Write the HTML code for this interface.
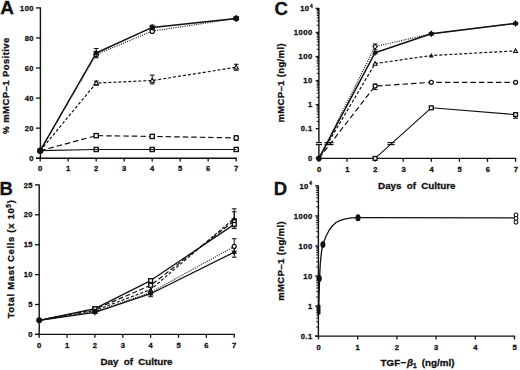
<!DOCTYPE html>
<html><head><meta charset="utf-8"><style>
html,body{margin:0;padding:0;background:#fff;}
svg{display:block;font-family:"Liberation Sans", sans-serif;}
text{fill:#111;stroke:#111;stroke-width:0.3px;}
</style></head><body>
<svg width="520" height="370" viewBox="0 0 520 370">
<rect width="520" height="370" fill="#fff"/>
<line x1="40.40" y1="7.40" x2="40.40" y2="158.80" stroke="#111" stroke-width="1.4"/>
<line x1="36.00" y1="158.20" x2="236.80" y2="158.20" stroke="#111" stroke-width="1.4"/>
<line x1="36.00" y1="158.20" x2="40.40" y2="158.20" stroke="#111" stroke-width="1.3"/>
<text x="34.10" y="160.80" font-size="7.6" text-anchor="end" font-weight="bold" letter-spacing="0.5">0</text>
<line x1="36.00" y1="128.14" x2="40.40" y2="128.14" stroke="#111" stroke-width="1.3"/>
<text x="34.10" y="130.74" font-size="7.6" text-anchor="end" font-weight="bold" letter-spacing="0.5">20</text>
<line x1="36.00" y1="98.08" x2="40.40" y2="98.08" stroke="#111" stroke-width="1.3"/>
<text x="34.10" y="100.68" font-size="7.6" text-anchor="end" font-weight="bold" letter-spacing="0.5">40</text>
<line x1="36.00" y1="68.02" x2="40.40" y2="68.02" stroke="#111" stroke-width="1.3"/>
<text x="34.10" y="70.62" font-size="7.6" text-anchor="end" font-weight="bold" letter-spacing="0.5">60</text>
<line x1="36.00" y1="37.96" x2="40.40" y2="37.96" stroke="#111" stroke-width="1.3"/>
<text x="34.10" y="40.56" font-size="7.6" text-anchor="end" font-weight="bold" letter-spacing="0.5">80</text>
<line x1="36.00" y1="7.90" x2="40.40" y2="7.90" stroke="#111" stroke-width="1.3"/>
<text x="34.10" y="10.50" font-size="7.6" text-anchor="end" font-weight="bold" letter-spacing="0.5">100</text>
<line x1="40.20" y1="158.20" x2="40.20" y2="161.60" stroke="#111" stroke-width="1.3"/>
<text x="40.45" y="170.90" font-size="7.6" text-anchor="middle" font-weight="bold" letter-spacing="0.5">0</text>
<line x1="68.20" y1="158.20" x2="68.20" y2="161.60" stroke="#111" stroke-width="1.3"/>
<text x="68.45" y="170.90" font-size="7.6" text-anchor="middle" font-weight="bold" letter-spacing="0.5">1</text>
<line x1="96.20" y1="158.20" x2="96.20" y2="161.60" stroke="#111" stroke-width="1.3"/>
<text x="96.45" y="170.90" font-size="7.6" text-anchor="middle" font-weight="bold" letter-spacing="0.5">2</text>
<line x1="124.20" y1="158.20" x2="124.20" y2="161.60" stroke="#111" stroke-width="1.3"/>
<text x="124.45" y="170.90" font-size="7.6" text-anchor="middle" font-weight="bold" letter-spacing="0.5">3</text>
<line x1="152.20" y1="158.20" x2="152.20" y2="161.60" stroke="#111" stroke-width="1.3"/>
<text x="152.45" y="170.90" font-size="7.6" text-anchor="middle" font-weight="bold" letter-spacing="0.5">4</text>
<line x1="180.20" y1="158.20" x2="180.20" y2="161.60" stroke="#111" stroke-width="1.3"/>
<text x="180.45" y="170.90" font-size="7.6" text-anchor="middle" font-weight="bold" letter-spacing="0.5">5</text>
<line x1="208.20" y1="158.20" x2="208.20" y2="161.60" stroke="#111" stroke-width="1.3"/>
<text x="208.45" y="170.90" font-size="7.6" text-anchor="middle" font-weight="bold" letter-spacing="0.5">6</text>
<line x1="236.20" y1="158.20" x2="236.20" y2="161.60" stroke="#111" stroke-width="1.3"/>
<text x="236.45" y="170.90" font-size="7.6" text-anchor="middle" font-weight="bold" letter-spacing="0.5">7</text>
<text x="0.20" y="14.10" font-size="19" text-anchor="start" font-weight="bold">A</text>
<text transform="translate(9.4,85.6) rotate(-90)" font-size="9.5" letter-spacing="0.42" text-anchor="middle" font-weight="bold"><tspan font-size="8.6">%</tspan> mMCP–1 Positive</text>
<polyline points="40.20,150.69 96.20,52.99 152.20,27.44 236.20,18.42" fill="none" stroke="#111" stroke-width="1.45" stroke-linejoin="round"/>
<polyline points="40.20,150.69 96.20,54.49 152.20,31.20 236.20,18.42" fill="none" stroke="#111" stroke-width="1.2" stroke-dasharray="1 1.3" stroke-linejoin="round"/>
<polyline points="40.20,150.69 96.20,83.05 152.20,80.49 236.20,67.27" fill="none" stroke="#111" stroke-width="1.2" stroke-dasharray="3 2" stroke-linejoin="round"/>
<polyline points="40.20,150.69 96.20,135.66 152.20,136.41 236.20,137.91" fill="none" stroke="#111" stroke-width="1.2" stroke-dasharray="5.5 3" stroke-linejoin="round"/>
<polyline points="40.20,150.69 96.20,149.48 152.20,149.48 236.20,149.48" fill="none" stroke="#111" stroke-width="1.2" stroke-linejoin="round"/>
<line x1="96.20" y1="48.48" x2="96.20" y2="57.80" stroke="#111" stroke-width="1.0"/>
<line x1="93.80" y1="48.48" x2="98.60" y2="48.48" stroke="#111" stroke-width="1.0"/>
<line x1="93.80" y1="57.80" x2="98.60" y2="57.80" stroke="#111" stroke-width="1.0"/>
<line x1="152.20" y1="25.18" x2="152.20" y2="29.69" stroke="#111" stroke-width="1.0"/>
<line x1="149.80" y1="25.18" x2="154.60" y2="25.18" stroke="#111" stroke-width="1.0"/>
<line x1="149.80" y1="29.69" x2="154.60" y2="29.69" stroke="#111" stroke-width="1.0"/>
<line x1="96.20" y1="81.10" x2="96.20" y2="85.30" stroke="#111" stroke-width="1.0"/>
<line x1="93.80" y1="81.10" x2="98.60" y2="81.10" stroke="#111" stroke-width="1.0"/>
<line x1="93.80" y1="85.30" x2="98.60" y2="85.30" stroke="#111" stroke-width="1.0"/>
<line x1="152.20" y1="75.08" x2="152.20" y2="83.95" stroke="#111" stroke-width="1.0"/>
<line x1="149.80" y1="75.08" x2="154.60" y2="75.08" stroke="#111" stroke-width="1.0"/>
<line x1="149.80" y1="83.95" x2="154.60" y2="83.95" stroke="#111" stroke-width="1.0"/>
<line x1="236.20" y1="64.26" x2="236.20" y2="70.27" stroke="#111" stroke-width="1.0"/>
<line x1="233.80" y1="64.26" x2="238.60" y2="64.26" stroke="#111" stroke-width="1.0"/>
<line x1="233.80" y1="70.27" x2="238.60" y2="70.27" stroke="#111" stroke-width="1.0"/>
<line x1="236.20" y1="135.66" x2="236.20" y2="140.46" stroke="#111" stroke-width="1.0"/>
<line x1="233.80" y1="135.66" x2="238.60" y2="135.66" stroke="#111" stroke-width="1.0"/>
<line x1="233.80" y1="140.46" x2="238.60" y2="140.46" stroke="#111" stroke-width="1.0"/>
<rect x="94.11" y="147.39" width="4.18" height="4.18" fill="none" stroke="#111" stroke-width="1.35"/>
<rect x="150.11" y="147.39" width="4.18" height="4.18" fill="none" stroke="#111" stroke-width="1.35"/>
<rect x="234.11" y="147.39" width="4.18" height="4.18" fill="none" stroke="#111" stroke-width="1.35"/>
<rect x="94.11" y="133.56" width="4.18" height="4.18" fill="#fff" stroke="#111" stroke-width="1.35"/>
<rect x="150.11" y="134.32" width="4.18" height="4.18" fill="#fff" stroke="#111" stroke-width="1.35"/>
<circle cx="236.20" cy="137.91" r="2.20" fill="#fff" stroke="#111" stroke-width="1.25"/>
<polygon points="96.20,80.85 98.40,84.81 94.00,84.81" fill="#fff" stroke="#111" stroke-width="1.1"/>
<polygon points="152.20,78.29 154.40,82.25 150.00,82.25" fill="#fff" stroke="#111" stroke-width="1.1"/>
<polygon points="236.20,65.07 238.40,69.03 234.00,69.03" fill="#fff" stroke="#111" stroke-width="1.1"/>
<circle cx="96.20" cy="54.49" r="2.20" fill="#fff" stroke="#111" stroke-width="1.25"/>
<circle cx="152.20" cy="31.20" r="2.20" fill="#fff" stroke="#111" stroke-width="1.25"/>
<circle cx="236.20" cy="18.42" r="2.20" fill="#fff" stroke="#111" stroke-width="1.25"/>
<polygon points="96.20,49.14 95.24,51.32 92.87,51.07 94.28,52.99 92.87,54.92 95.24,54.66 96.20,56.84 97.16,54.66 99.53,54.92 98.12,52.99 99.53,51.07 97.16,51.32" fill="#111"/>
<polygon points="152.20,23.59 151.24,25.77 148.87,25.51 150.27,27.44 148.87,29.36 151.24,29.11 152.20,31.29 153.16,29.11 155.53,29.36 154.12,27.44 155.53,25.51 153.16,25.77" fill="#111"/>
<polygon points="236.20,14.57 235.24,16.75 232.87,16.50 234.27,18.42 232.87,20.35 235.24,20.09 236.20,22.27 237.16,20.09 239.53,20.35 238.12,18.42 239.53,16.50 237.16,16.75" fill="#111"/>
<circle cx="40.20" cy="150.69" r="3.20" fill="#111"/>
<line x1="39.20" y1="184.40" x2="39.20" y2="335.00" stroke="#111" stroke-width="1.4"/>
<line x1="35.00" y1="334.40" x2="234.82" y2="334.40" stroke="#111" stroke-width="1.4"/>
<line x1="35.00" y1="334.40" x2="39.20" y2="334.40" stroke="#111" stroke-width="1.3"/>
<text x="33.10" y="337.00" font-size="7.6" text-anchor="end" font-weight="bold" letter-spacing="0.5">0</text>
<line x1="35.00" y1="304.50" x2="39.20" y2="304.50" stroke="#111" stroke-width="1.3"/>
<text x="33.10" y="307.10" font-size="7.6" text-anchor="end" font-weight="bold" letter-spacing="0.5">5</text>
<line x1="35.00" y1="274.60" x2="39.20" y2="274.60" stroke="#111" stroke-width="1.3"/>
<text x="33.10" y="277.20" font-size="7.6" text-anchor="end" font-weight="bold" letter-spacing="0.5">10</text>
<line x1="35.00" y1="244.70" x2="39.20" y2="244.70" stroke="#111" stroke-width="1.3"/>
<text x="33.10" y="247.30" font-size="7.6" text-anchor="end" font-weight="bold" letter-spacing="0.5">15</text>
<line x1="35.00" y1="214.80" x2="39.20" y2="214.80" stroke="#111" stroke-width="1.3"/>
<text x="33.10" y="217.40" font-size="7.6" text-anchor="end" font-weight="bold" letter-spacing="0.5">20</text>
<line x1="35.00" y1="184.90" x2="39.20" y2="184.90" stroke="#111" stroke-width="1.3"/>
<text x="33.10" y="187.50" font-size="7.6" text-anchor="end" font-weight="bold" letter-spacing="0.5">25</text>
<line x1="39.20" y1="334.40" x2="39.20" y2="337.80" stroke="#111" stroke-width="1.3"/>
<text x="39.45" y="348.00" font-size="7.6" text-anchor="middle" font-weight="bold" letter-spacing="0.5">0</text>
<line x1="67.06" y1="334.40" x2="67.06" y2="337.80" stroke="#111" stroke-width="1.3"/>
<text x="67.31" y="348.00" font-size="7.6" text-anchor="middle" font-weight="bold" letter-spacing="0.5">1</text>
<line x1="94.92" y1="334.40" x2="94.92" y2="337.80" stroke="#111" stroke-width="1.3"/>
<text x="95.17" y="348.00" font-size="7.6" text-anchor="middle" font-weight="bold" letter-spacing="0.5">2</text>
<line x1="122.78" y1="334.40" x2="122.78" y2="337.80" stroke="#111" stroke-width="1.3"/>
<text x="123.03" y="348.00" font-size="7.6" text-anchor="middle" font-weight="bold" letter-spacing="0.5">3</text>
<line x1="150.64" y1="334.40" x2="150.64" y2="337.80" stroke="#111" stroke-width="1.3"/>
<text x="150.89" y="348.00" font-size="7.6" text-anchor="middle" font-weight="bold" letter-spacing="0.5">4</text>
<line x1="178.50" y1="334.40" x2="178.50" y2="337.80" stroke="#111" stroke-width="1.3"/>
<text x="178.75" y="348.00" font-size="7.6" text-anchor="middle" font-weight="bold" letter-spacing="0.5">5</text>
<line x1="206.36" y1="334.40" x2="206.36" y2="337.80" stroke="#111" stroke-width="1.3"/>
<text x="206.61" y="348.00" font-size="7.6" text-anchor="middle" font-weight="bold" letter-spacing="0.5">6</text>
<line x1="234.22" y1="334.40" x2="234.22" y2="337.80" stroke="#111" stroke-width="1.3"/>
<text x="234.47" y="348.00" font-size="7.6" text-anchor="middle" font-weight="bold" letter-spacing="0.5">7</text>
<text x="-0.60" y="194.80" font-size="18.5" text-anchor="start" font-weight="bold">B</text>
<text transform="translate(14.1,259) rotate(-90)" font-size="9.5" letter-spacing="0.68" text-anchor="middle" font-weight="bold">Total Mast Cells (x 10<tspan font-size="6.5" dy="-3.5">5</tspan><tspan dy="3.5">)</tspan></text>
<text x="136.5" y="364.6" font-size="9.8" text-anchor="middle" font-weight="bold" word-spacing="2.5">Day of Culture</text>
<polyline points="39.20,320.35 94.92,308.69 150.64,280.58 234.22,224.37" fill="none" stroke="#111" stroke-width="1.3" stroke-linejoin="round"/>
<polyline points="39.20,320.35 94.92,309.28 150.64,285.36 234.22,220.78" fill="none" stroke="#111" stroke-width="1.2" stroke-dasharray="5 2.5" stroke-linejoin="round"/>
<polyline points="39.20,320.35 94.92,310.48 150.64,289.55 234.22,218.39" fill="none" stroke="#111" stroke-width="1.2" stroke-dasharray="3 2" stroke-linejoin="round"/>
<polyline points="39.20,320.35 94.92,311.68 150.64,292.54 234.22,246.49" fill="none" stroke="#111" stroke-width="1.2" stroke-dasharray="1 1.3" stroke-linejoin="round"/>
<polyline points="39.20,320.35 94.92,312.27 150.64,293.74 234.22,252.18" fill="none" stroke="#111" stroke-width="1.3" stroke-linejoin="round"/>
<line x1="234.22" y1="208.82" x2="234.22" y2="228.55" stroke="#111" stroke-width="1.0"/>
<line x1="231.82" y1="208.82" x2="236.62" y2="208.82" stroke="#111" stroke-width="1.0"/>
<line x1="231.82" y1="228.55" x2="236.62" y2="228.55" stroke="#111" stroke-width="1.0"/>
<line x1="234.22" y1="211.81" x2="234.22" y2="226.76" stroke="#111" stroke-width="1.0"/>
<line x1="231.82" y1="211.81" x2="236.62" y2="211.81" stroke="#111" stroke-width="1.0"/>
<line x1="231.82" y1="226.76" x2="236.62" y2="226.76" stroke="#111" stroke-width="1.0"/>
<line x1="234.22" y1="238.72" x2="234.22" y2="257.26" stroke="#111" stroke-width="1.0"/>
<line x1="231.82" y1="238.72" x2="236.62" y2="238.72" stroke="#111" stroke-width="1.0"/>
<line x1="231.82" y1="257.26" x2="236.62" y2="257.26" stroke="#111" stroke-width="1.0"/>
<line x1="150.64" y1="278.79" x2="150.64" y2="296.73" stroke="#111" stroke-width="1.0"/>
<line x1="148.24" y1="278.79" x2="153.04" y2="278.79" stroke="#111" stroke-width="1.0"/>
<line x1="148.24" y1="296.73" x2="153.04" y2="296.73" stroke="#111" stroke-width="1.0"/>
<line x1="94.92" y1="306.89" x2="94.92" y2="313.47" stroke="#111" stroke-width="1.0"/>
<line x1="92.52" y1="306.89" x2="97.32" y2="306.89" stroke="#111" stroke-width="1.0"/>
<line x1="92.52" y1="313.47" x2="97.32" y2="313.47" stroke="#111" stroke-width="1.0"/>
<rect x="93.02" y="307.38" width="3.80" height="3.80" fill="#fff" stroke="#111" stroke-width="1.35"/>
<rect x="148.74" y="283.46" width="3.80" height="3.80" fill="#fff" stroke="#111" stroke-width="1.35"/>
<rect x="232.32" y="218.88" width="3.80" height="3.80" fill="#fff" stroke="#111" stroke-width="1.35"/>
<rect x="93.02" y="306.79" width="3.80" height="3.80" fill="#fff" stroke="#111" stroke-width="1.35"/>
<rect x="148.74" y="278.68" width="3.80" height="3.80" fill="#fff" stroke="#111" stroke-width="1.35"/>
<rect x="232.32" y="222.47" width="3.80" height="3.80" fill="#fff" stroke="#111" stroke-width="1.35"/>
<circle cx="94.92" cy="311.68" r="2.00" fill="#fff" stroke="#111" stroke-width="1.25"/>
<circle cx="150.64" cy="292.54" r="2.00" fill="#fff" stroke="#111" stroke-width="1.25"/>
<circle cx="234.22" cy="246.49" r="2.00" fill="#fff" stroke="#111" stroke-width="1.25"/>
<polygon points="94.92,308.77 94.05,310.76 91.89,310.52 93.17,312.27 91.89,314.02 94.05,313.79 94.92,315.77 95.80,313.79 97.95,314.02 96.67,312.27 97.95,310.52 95.80,310.76" fill="#111"/>
<polygon points="150.64,290.24 149.76,292.22 147.61,291.99 148.89,293.74 147.61,295.49 149.76,295.25 150.64,297.24 151.51,295.25 153.67,295.49 152.39,293.74 153.67,291.99 151.51,292.22" fill="#111"/>
<polygon points="234.22,248.68 233.34,250.66 231.19,250.43 232.47,252.18 231.19,253.93 233.34,253.69 234.22,255.68 235.09,253.69 237.25,253.93 235.97,252.18 237.25,250.43 235.09,250.66" fill="#111"/>
<polygon points="94.92,308.08 97.32,312.48 92.52,312.48" fill="#111"/>
<polygon points="150.64,287.15 153.04,291.55 148.24,291.55" fill="#111"/>
<polygon points="234.22,215.99 236.62,220.39 231.82,220.39" fill="#111"/>
<circle cx="39.20" cy="320.35" r="3.00" fill="#111"/>
<line x1="318.90" y1="8.00" x2="318.90" y2="142.20" stroke="#111" stroke-width="1.4"/>
<line x1="318.90" y1="144.80" x2="318.90" y2="158.90" stroke="#111" stroke-width="1.4"/>
<line x1="318.30" y1="158.40" x2="516.20" y2="158.40" stroke="#111" stroke-width="1.4"/>
<line x1="315.70" y1="128.65" x2="318.90" y2="128.65" stroke="#111" stroke-width="1.3"/>
<line x1="316.70" y1="121.41" x2="318.90" y2="121.41" stroke="#111" stroke-width="1.0"/>
<line x1="316.70" y1="117.18" x2="318.90" y2="117.18" stroke="#111" stroke-width="1.0"/>
<line x1="316.70" y1="114.17" x2="318.90" y2="114.17" stroke="#111" stroke-width="1.0"/>
<line x1="316.70" y1="111.84" x2="318.90" y2="111.84" stroke="#111" stroke-width="1.0"/>
<line x1="316.70" y1="109.94" x2="318.90" y2="109.94" stroke="#111" stroke-width="1.0"/>
<line x1="316.70" y1="108.33" x2="318.90" y2="108.33" stroke="#111" stroke-width="1.0"/>
<line x1="316.70" y1="106.93" x2="318.90" y2="106.93" stroke="#111" stroke-width="1.0"/>
<line x1="316.70" y1="105.70" x2="318.90" y2="105.70" stroke="#111" stroke-width="1.0"/>
<line x1="315.70" y1="104.60" x2="318.90" y2="104.60" stroke="#111" stroke-width="1.3"/>
<line x1="316.70" y1="97.36" x2="318.90" y2="97.36" stroke="#111" stroke-width="1.0"/>
<line x1="316.70" y1="93.13" x2="318.90" y2="93.13" stroke="#111" stroke-width="1.0"/>
<line x1="316.70" y1="90.12" x2="318.90" y2="90.12" stroke="#111" stroke-width="1.0"/>
<line x1="316.70" y1="87.79" x2="318.90" y2="87.79" stroke="#111" stroke-width="1.0"/>
<line x1="316.70" y1="85.89" x2="318.90" y2="85.89" stroke="#111" stroke-width="1.0"/>
<line x1="316.70" y1="84.28" x2="318.90" y2="84.28" stroke="#111" stroke-width="1.0"/>
<line x1="316.70" y1="82.88" x2="318.90" y2="82.88" stroke="#111" stroke-width="1.0"/>
<line x1="316.70" y1="81.65" x2="318.90" y2="81.65" stroke="#111" stroke-width="1.0"/>
<line x1="315.70" y1="80.55" x2="318.90" y2="80.55" stroke="#111" stroke-width="1.3"/>
<line x1="316.70" y1="73.31" x2="318.90" y2="73.31" stroke="#111" stroke-width="1.0"/>
<line x1="316.70" y1="69.08" x2="318.90" y2="69.08" stroke="#111" stroke-width="1.0"/>
<line x1="316.70" y1="66.07" x2="318.90" y2="66.07" stroke="#111" stroke-width="1.0"/>
<line x1="316.70" y1="63.74" x2="318.90" y2="63.74" stroke="#111" stroke-width="1.0"/>
<line x1="316.70" y1="61.84" x2="318.90" y2="61.84" stroke="#111" stroke-width="1.0"/>
<line x1="316.70" y1="60.23" x2="318.90" y2="60.23" stroke="#111" stroke-width="1.0"/>
<line x1="316.70" y1="58.83" x2="318.90" y2="58.83" stroke="#111" stroke-width="1.0"/>
<line x1="316.70" y1="57.60" x2="318.90" y2="57.60" stroke="#111" stroke-width="1.0"/>
<line x1="315.70" y1="56.50" x2="318.90" y2="56.50" stroke="#111" stroke-width="1.3"/>
<line x1="316.70" y1="49.26" x2="318.90" y2="49.26" stroke="#111" stroke-width="1.0"/>
<line x1="316.70" y1="45.03" x2="318.90" y2="45.03" stroke="#111" stroke-width="1.0"/>
<line x1="316.70" y1="42.02" x2="318.90" y2="42.02" stroke="#111" stroke-width="1.0"/>
<line x1="316.70" y1="39.69" x2="318.90" y2="39.69" stroke="#111" stroke-width="1.0"/>
<line x1="316.70" y1="37.79" x2="318.90" y2="37.79" stroke="#111" stroke-width="1.0"/>
<line x1="316.70" y1="36.18" x2="318.90" y2="36.18" stroke="#111" stroke-width="1.0"/>
<line x1="316.70" y1="34.78" x2="318.90" y2="34.78" stroke="#111" stroke-width="1.0"/>
<line x1="316.70" y1="33.55" x2="318.90" y2="33.55" stroke="#111" stroke-width="1.0"/>
<line x1="315.70" y1="32.45" x2="318.90" y2="32.45" stroke="#111" stroke-width="1.3"/>
<line x1="316.70" y1="25.21" x2="318.90" y2="25.21" stroke="#111" stroke-width="1.0"/>
<line x1="316.70" y1="20.98" x2="318.90" y2="20.98" stroke="#111" stroke-width="1.0"/>
<line x1="316.70" y1="17.97" x2="318.90" y2="17.97" stroke="#111" stroke-width="1.0"/>
<line x1="316.70" y1="15.64" x2="318.90" y2="15.64" stroke="#111" stroke-width="1.0"/>
<line x1="316.70" y1="13.74" x2="318.90" y2="13.74" stroke="#111" stroke-width="1.0"/>
<line x1="316.70" y1="12.13" x2="318.90" y2="12.13" stroke="#111" stroke-width="1.0"/>
<line x1="316.70" y1="10.73" x2="318.90" y2="10.73" stroke="#111" stroke-width="1.0"/>
<line x1="316.70" y1="9.50" x2="318.90" y2="9.50" stroke="#111" stroke-width="1.0"/>
<line x1="315.70" y1="8.40" x2="318.90" y2="8.40" stroke="#111" stroke-width="1.3"/>
<text x="312.70" y="35.05" font-size="7.6" text-anchor="end" font-weight="bold" letter-spacing="0.5">1000</text>
<text x="312.70" y="59.10" font-size="7.6" text-anchor="end" font-weight="bold" letter-spacing="0.5">100</text>
<text x="312.70" y="83.15" font-size="7.6" text-anchor="end" font-weight="bold" letter-spacing="0.5">10</text>
<text x="312.70" y="107.20" font-size="7.6" text-anchor="end" font-weight="bold" letter-spacing="0.5">1</text>
<text x="312.70" y="131.25" font-size="7.6" text-anchor="end" font-weight="bold" letter-spacing="0.5">0.1</text>
<text x="309.30" y="10.90" font-size="7.6" text-anchor="end" font-weight="bold" letter-spacing="0.3">10</text>
<text x="309.90" y="7.50" font-size="4.8" text-anchor="start" font-weight="bold">4</text>
<line x1="315.70" y1="158.40" x2="318.90" y2="158.40" stroke="#111" stroke-width="1.3"/>
<text x="312.70" y="161.00" font-size="7.6" text-anchor="end" font-weight="bold" letter-spacing="0.5">0</text>
<line x1="318.90" y1="158.40" x2="318.90" y2="161.80" stroke="#111" stroke-width="1.3"/>
<text x="319.45" y="172.10" font-size="7.6" text-anchor="middle" font-weight="bold" letter-spacing="0.5">0</text>
<line x1="347.00" y1="158.40" x2="347.00" y2="161.80" stroke="#111" stroke-width="1.3"/>
<text x="347.55" y="172.10" font-size="7.6" text-anchor="middle" font-weight="bold" letter-spacing="0.5">1</text>
<line x1="375.10" y1="158.40" x2="375.10" y2="161.80" stroke="#111" stroke-width="1.3"/>
<text x="375.65" y="172.10" font-size="7.6" text-anchor="middle" font-weight="bold" letter-spacing="0.5">2</text>
<line x1="403.20" y1="158.40" x2="403.20" y2="161.80" stroke="#111" stroke-width="1.3"/>
<text x="403.75" y="172.10" font-size="7.6" text-anchor="middle" font-weight="bold" letter-spacing="0.5">3</text>
<line x1="431.30" y1="158.40" x2="431.30" y2="161.80" stroke="#111" stroke-width="1.3"/>
<text x="431.85" y="172.10" font-size="7.6" text-anchor="middle" font-weight="bold" letter-spacing="0.5">4</text>
<line x1="459.40" y1="158.40" x2="459.40" y2="161.80" stroke="#111" stroke-width="1.3"/>
<text x="459.95" y="172.10" font-size="7.6" text-anchor="middle" font-weight="bold" letter-spacing="0.5">5</text>
<line x1="487.50" y1="158.40" x2="487.50" y2="161.80" stroke="#111" stroke-width="1.3"/>
<text x="488.05" y="172.10" font-size="7.6" text-anchor="middle" font-weight="bold" letter-spacing="0.5">6</text>
<line x1="515.60" y1="158.40" x2="515.60" y2="161.80" stroke="#111" stroke-width="1.3"/>
<text x="516.15" y="172.10" font-size="7.6" text-anchor="middle" font-weight="bold" letter-spacing="0.5">7</text>
<line x1="315.80" y1="142.60" x2="322.00" y2="142.60" stroke="#111" stroke-width="1.2"/>
<line x1="324.50" y1="142.60" x2="333.50" y2="142.60" stroke="#111" stroke-width="1.2"/>
<line x1="387.50" y1="142.60" x2="394.50" y2="142.60" stroke="#111" stroke-width="1.2"/>
<line x1="315.80" y1="144.60" x2="322.00" y2="144.60" stroke="#111" stroke-width="1.2"/>
<line x1="324.50" y1="144.60" x2="333.50" y2="144.60" stroke="#111" stroke-width="1.2"/>
<line x1="387.50" y1="144.60" x2="394.50" y2="144.60" stroke="#111" stroke-width="1.2"/>
<text x="274.60" y="14.70" font-size="18.5" text-anchor="start" font-weight="bold">C</text>
<text transform="translate(284.3,82.8) rotate(-90)" font-size="9.5" letter-spacing="0.36" text-anchor="middle" font-weight="bold">mMCP–1 (ng/ml)</text>
<text x="416.8" y="189.4" font-size="9.8" text-anchor="middle" font-weight="bold" word-spacing="2.5">Days of Culture</text>
<polyline points="318.90,158.40 375.10,52.69 431.30,33.80 515.60,23.41" fill="none" stroke="#111" stroke-width="1.45" stroke-linejoin="round"/>
<polyline points="318.90,158.40 375.10,46.60 431.30,33.80 515.60,23.41" fill="none" stroke="#111" stroke-width="1.2" stroke-dasharray="1 1.3" stroke-linejoin="round"/>
<polyline points="318.90,158.40 375.10,63.59 431.30,55.50 515.60,50.90" fill="none" stroke="#111" stroke-width="1.2" stroke-dasharray="3 2" stroke-linejoin="round"/>
<polyline points="318.90,158.40 375.10,86.06 431.30,82.31 515.60,82.31" fill="none" stroke="#111" stroke-width="1.2" stroke-dasharray="5.5 3" stroke-linejoin="round"/>
<polyline points="375.10,158.40 431.30,107.80 515.60,114.60" fill="none" stroke="#111" stroke-width="1.1" stroke-linejoin="round"/>
<line x1="375.10" y1="44.03" x2="375.10" y2="49.80" stroke="#111" stroke-width="1.0"/>
<line x1="372.70" y1="44.03" x2="377.50" y2="44.03" stroke="#111" stroke-width="1.0"/>
<line x1="372.70" y1="49.80" x2="377.50" y2="49.80" stroke="#111" stroke-width="1.0"/>
<line x1="375.10" y1="83.98" x2="375.10" y2="89.61" stroke="#111" stroke-width="1.0"/>
<line x1="372.70" y1="83.98" x2="377.50" y2="83.98" stroke="#111" stroke-width="1.0"/>
<line x1="372.70" y1="89.61" x2="377.50" y2="89.61" stroke="#111" stroke-width="1.0"/>
<line x1="515.60" y1="112.94" x2="515.60" y2="118.28" stroke="#111" stroke-width="1.0"/>
<line x1="513.20" y1="112.94" x2="518.00" y2="112.94" stroke="#111" stroke-width="1.0"/>
<line x1="513.20" y1="118.28" x2="518.00" y2="118.28" stroke="#111" stroke-width="1.0"/>
<circle cx="375.10" cy="86.06" r="2.00" fill="#fff" stroke="#111" stroke-width="1.25"/>
<circle cx="431.30" cy="82.31" r="2.00" fill="#fff" stroke="#111" stroke-width="1.25"/>
<circle cx="515.60" cy="82.31" r="2.00" fill="#fff" stroke="#111" stroke-width="1.25"/>
<polygon points="375.10,61.59 377.10,65.19 373.10,65.19" fill="#fff" stroke="#111" stroke-width="1.1"/>
<polygon points="431.30,53.10 433.70,57.50 428.90,57.50" fill="#111"/>
<polygon points="515.60,48.90 517.60,52.50 513.60,52.50" fill="#fff" stroke="#111" stroke-width="1.1"/>
<polygon points="375.10,44.20 377.30,46.60 375.10,49.00 372.90,46.60" fill="#fff" stroke="#111" stroke-width="1.1"/>
<polygon points="431.30,31.40 433.50,33.80 431.30,36.20 429.10,33.80" fill="#fff" stroke="#111" stroke-width="1.1"/>
<polygon points="515.60,21.01 517.80,23.41 515.60,25.81 513.40,23.41" fill="#fff" stroke="#111" stroke-width="1.1"/>
<polygon points="375.10,49.19 374.22,51.18 372.07,50.94 373.35,52.69 372.07,54.44 374.22,54.21 375.10,56.19 375.97,54.21 378.13,54.44 376.85,52.69 378.13,50.94 375.97,51.18" fill="#111"/>
<polygon points="431.30,30.30 430.42,32.28 428.27,32.05 429.55,33.80 428.27,35.55 430.42,35.31 431.30,37.30 432.17,35.31 434.33,35.55 433.05,33.80 434.33,32.05 432.17,32.28" fill="#111"/>
<polygon points="515.60,19.91 514.73,21.89 512.57,21.66 513.85,23.41 512.57,25.16 514.73,24.92 515.60,26.91 516.48,24.92 518.63,25.16 517.35,23.41 518.63,21.66 516.48,21.89" fill="#111"/>
<rect x="373.20" y="156.50" width="3.80" height="3.80" fill="#fff" stroke="#111" stroke-width="1.35"/>
<rect x="429.40" y="105.90" width="3.80" height="3.80" fill="#fff" stroke="#111" stroke-width="1.35"/>
<rect x="513.70" y="112.70" width="3.80" height="3.80" fill="#fff" stroke="#111" stroke-width="1.35"/>
<circle cx="318.90" cy="158.40" r="2.80" fill="#111"/>
<line x1="318.40" y1="185.40" x2="318.40" y2="336.60" stroke="#111" stroke-width="1.4"/>
<line x1="315.20" y1="336.10" x2="515.10" y2="336.10" stroke="#111" stroke-width="1.4"/>
<line x1="315.20" y1="336.10" x2="318.40" y2="336.10" stroke="#111" stroke-width="1.3"/>
<line x1="316.20" y1="327.06" x2="318.40" y2="327.06" stroke="#111" stroke-width="1.0"/>
<line x1="316.20" y1="321.77" x2="318.40" y2="321.77" stroke="#111" stroke-width="1.0"/>
<line x1="316.20" y1="318.01" x2="318.40" y2="318.01" stroke="#111" stroke-width="1.0"/>
<line x1="316.20" y1="315.10" x2="318.40" y2="315.10" stroke="#111" stroke-width="1.0"/>
<line x1="316.20" y1="312.72" x2="318.40" y2="312.72" stroke="#111" stroke-width="1.0"/>
<line x1="316.20" y1="310.71" x2="318.40" y2="310.71" stroke="#111" stroke-width="1.0"/>
<line x1="316.20" y1="308.97" x2="318.40" y2="308.97" stroke="#111" stroke-width="1.0"/>
<line x1="316.20" y1="307.43" x2="318.40" y2="307.43" stroke="#111" stroke-width="1.0"/>
<line x1="315.20" y1="306.06" x2="318.40" y2="306.06" stroke="#111" stroke-width="1.3"/>
<line x1="316.20" y1="297.02" x2="318.40" y2="297.02" stroke="#111" stroke-width="1.0"/>
<line x1="316.20" y1="291.73" x2="318.40" y2="291.73" stroke="#111" stroke-width="1.0"/>
<line x1="316.20" y1="287.97" x2="318.40" y2="287.97" stroke="#111" stroke-width="1.0"/>
<line x1="316.20" y1="285.06" x2="318.40" y2="285.06" stroke="#111" stroke-width="1.0"/>
<line x1="316.20" y1="282.68" x2="318.40" y2="282.68" stroke="#111" stroke-width="1.0"/>
<line x1="316.20" y1="280.67" x2="318.40" y2="280.67" stroke="#111" stroke-width="1.0"/>
<line x1="316.20" y1="278.93" x2="318.40" y2="278.93" stroke="#111" stroke-width="1.0"/>
<line x1="316.20" y1="277.39" x2="318.40" y2="277.39" stroke="#111" stroke-width="1.0"/>
<line x1="315.20" y1="276.02" x2="318.40" y2="276.02" stroke="#111" stroke-width="1.3"/>
<line x1="316.20" y1="266.98" x2="318.40" y2="266.98" stroke="#111" stroke-width="1.0"/>
<line x1="316.20" y1="261.69" x2="318.40" y2="261.69" stroke="#111" stroke-width="1.0"/>
<line x1="316.20" y1="257.93" x2="318.40" y2="257.93" stroke="#111" stroke-width="1.0"/>
<line x1="316.20" y1="255.02" x2="318.40" y2="255.02" stroke="#111" stroke-width="1.0"/>
<line x1="316.20" y1="252.64" x2="318.40" y2="252.64" stroke="#111" stroke-width="1.0"/>
<line x1="316.20" y1="250.63" x2="318.40" y2="250.63" stroke="#111" stroke-width="1.0"/>
<line x1="316.20" y1="248.89" x2="318.40" y2="248.89" stroke="#111" stroke-width="1.0"/>
<line x1="316.20" y1="247.35" x2="318.40" y2="247.35" stroke="#111" stroke-width="1.0"/>
<line x1="315.20" y1="245.98" x2="318.40" y2="245.98" stroke="#111" stroke-width="1.3"/>
<line x1="316.20" y1="236.94" x2="318.40" y2="236.94" stroke="#111" stroke-width="1.0"/>
<line x1="316.20" y1="231.65" x2="318.40" y2="231.65" stroke="#111" stroke-width="1.0"/>
<line x1="316.20" y1="227.89" x2="318.40" y2="227.89" stroke="#111" stroke-width="1.0"/>
<line x1="316.20" y1="224.98" x2="318.40" y2="224.98" stroke="#111" stroke-width="1.0"/>
<line x1="316.20" y1="222.60" x2="318.40" y2="222.60" stroke="#111" stroke-width="1.0"/>
<line x1="316.20" y1="220.59" x2="318.40" y2="220.59" stroke="#111" stroke-width="1.0"/>
<line x1="316.20" y1="218.85" x2="318.40" y2="218.85" stroke="#111" stroke-width="1.0"/>
<line x1="316.20" y1="217.31" x2="318.40" y2="217.31" stroke="#111" stroke-width="1.0"/>
<line x1="315.20" y1="215.94" x2="318.40" y2="215.94" stroke="#111" stroke-width="1.3"/>
<line x1="316.20" y1="206.90" x2="318.40" y2="206.90" stroke="#111" stroke-width="1.0"/>
<line x1="316.20" y1="201.61" x2="318.40" y2="201.61" stroke="#111" stroke-width="1.0"/>
<line x1="316.20" y1="197.85" x2="318.40" y2="197.85" stroke="#111" stroke-width="1.0"/>
<line x1="316.20" y1="194.94" x2="318.40" y2="194.94" stroke="#111" stroke-width="1.0"/>
<line x1="316.20" y1="192.56" x2="318.40" y2="192.56" stroke="#111" stroke-width="1.0"/>
<line x1="316.20" y1="190.55" x2="318.40" y2="190.55" stroke="#111" stroke-width="1.0"/>
<line x1="316.20" y1="188.81" x2="318.40" y2="188.81" stroke="#111" stroke-width="1.0"/>
<line x1="316.20" y1="187.27" x2="318.40" y2="187.27" stroke="#111" stroke-width="1.0"/>
<line x1="315.20" y1="185.90" x2="318.40" y2="185.90" stroke="#111" stroke-width="1.3"/>
<text x="312.70" y="218.54" font-size="7.6" text-anchor="end" font-weight="bold" letter-spacing="0.5">1000</text>
<text x="312.70" y="248.58" font-size="7.6" text-anchor="end" font-weight="bold" letter-spacing="0.5">100</text>
<text x="312.70" y="278.62" font-size="7.6" text-anchor="end" font-weight="bold" letter-spacing="0.5">10</text>
<text x="312.70" y="308.66" font-size="7.6" text-anchor="end" font-weight="bold" letter-spacing="0.5">1</text>
<text x="312.70" y="338.70" font-size="7.6" text-anchor="end" font-weight="bold" letter-spacing="0.5">0.1</text>
<text x="308.50" y="188.60" font-size="7.6" text-anchor="end" font-weight="bold" letter-spacing="0.3">10</text>
<text x="309.20" y="185.00" font-size="4.8" text-anchor="start" font-weight="bold">4</text>
<line x1="318.50" y1="336.10" x2="318.50" y2="339.50" stroke="#111" stroke-width="1.3"/>
<text x="318.75" y="349.50" font-size="7.6" text-anchor="middle" font-weight="bold" letter-spacing="0.5">0</text>
<line x1="357.70" y1="336.10" x2="357.70" y2="339.50" stroke="#111" stroke-width="1.3"/>
<text x="357.95" y="349.50" font-size="7.6" text-anchor="middle" font-weight="bold" letter-spacing="0.5">1</text>
<line x1="396.90" y1="336.10" x2="396.90" y2="339.50" stroke="#111" stroke-width="1.3"/>
<text x="397.15" y="349.50" font-size="7.6" text-anchor="middle" font-weight="bold" letter-spacing="0.5">2</text>
<line x1="436.10" y1="336.10" x2="436.10" y2="339.50" stroke="#111" stroke-width="1.3"/>
<text x="436.35" y="349.50" font-size="7.6" text-anchor="middle" font-weight="bold" letter-spacing="0.5">3</text>
<line x1="475.30" y1="336.10" x2="475.30" y2="339.50" stroke="#111" stroke-width="1.3"/>
<text x="475.55" y="349.50" font-size="7.6" text-anchor="middle" font-weight="bold" letter-spacing="0.5">4</text>
<line x1="514.50" y1="336.10" x2="514.50" y2="339.50" stroke="#111" stroke-width="1.3"/>
<text x="514.75" y="349.50" font-size="7.6" text-anchor="middle" font-weight="bold" letter-spacing="0.5">5</text>
<text x="273.80" y="194.60" font-size="18.5" text-anchor="start" font-weight="bold">D</text>
<text transform="translate(284.3,260.9) rotate(-90)" font-size="9.5" letter-spacing="0.38" text-anchor="middle" font-weight="bold">mMCP–1 (ng/ml)</text>
<text x="380.6" y="366" font-size="9.8" text-anchor="start" font-weight="bold" word-spacing="2.5">TGF<tspan dx="0.5">−</tspan><tspan dx="0.5" font-style="italic">β</tspan><tspan font-size="6.5" dy="2">1</tspan><tspan dy="-2"> (ng/ml)</tspan></text>
<path d="M318.6,312 C318.9,300 319.2,288 319.6,278 C320.2,262 321.2,250 323.2,243.5 C326,235 330,227 336,222.5 C342,219 350,217.8 358,217.7 L515,217.9" fill="none" stroke="#111" stroke-width="1.3"/>
<rect x="317.1" y="304.6" width="3.4" height="10" rx="1.2" fill="#111"/>
<ellipse cx="319.30" cy="278.40" rx="2.50" ry="3.38" fill="#111"/>
<ellipse cx="322.90" cy="244.60" rx="2.50" ry="3.38" fill="#111"/>
<ellipse cx="358.00" cy="217.80" rx="2.60" ry="3.51" fill="#111"/>
<circle cx="516.0" cy="214.9" r="1.9" fill="#fff" stroke="#111" stroke-width="1.1"/>
<circle cx="516.0" cy="218.4" r="1.9" fill="#fff" stroke="#111" stroke-width="1.1"/>
<circle cx="516.0" cy="222.2" r="1.9" fill="#fff" stroke="#111" stroke-width="1.1"/>
</svg>
</body></html>
